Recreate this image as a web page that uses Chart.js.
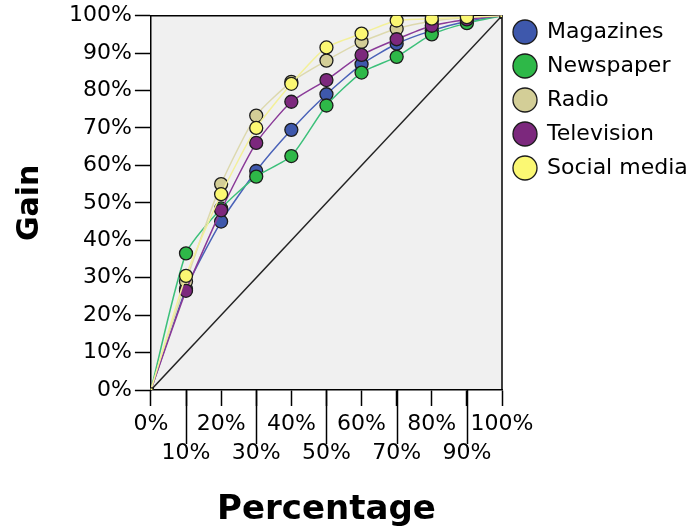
<!DOCTYPE html>
<html>
<head>
<meta charset="utf-8">
<script src="https://cdn.jsdelivr.net/npm/chart.js@4.4.1/dist/chart.umd.min.js"></script>
<style>
  html, body { margin: 0; padding: 0; background: #fff; }
</style>
</head>
<body>
<canvas id="chart" width="687" height="531"></canvas>
<script>
const chartCanvas = document.getElementById("chart");

// cumulative gain, percent of cases
const percentages = [0, 10, 20, 30, 40, 50, 60, 70, 80, 90, 100];
const magazines = [0, 27, 45, 58.5, 69.5, 79, 87, 92.5, 96, 98.5, 100];
const newspaper = [0, 36.5, 48.5, 57, 62.5, 76, 84.8, 89, 95, 98, 100];
const radio = [0, 29, 55, 73.3, 82.3, 88, 93, 96.5, 98.5, 99.5, 100];
const television = [0, 26.5, 48, 66, 77, 82.8, 89.5, 93.7, 97.3, 99, 100];
const socialMedia = [0, 30.5, 52.3, 70, 81.8, 91.5, 95.2, 98.7, 99.2, 99.6, 100];
const baseline = [0, 100];

const seriesNames = ["Magazines", "Newspaper", "Radio", "Television", "Social media"];
const seriesValues = [magazines, newspaper, radio, television, socialMedia];
const markerColors = ["#3e58ac", "#2eb848", "#d3ce97", "#7c287d", "#fbf873"];
const lineColors = ["#4a62b8", "#3cc07a", "#ddd9ae", "#8a3a98", "#f3f09a"];

const FONT = "'DejaVu Sans', sans-serif";

const toPoints = (vals) => vals.map((v, i) => ({ x: percentages[i], y: v }));
const isEnd = (ctx) => ctx.dataIndex === 0 || ctx.dataIndex === percentages.length - 1;

const datasets = seriesNames.map((name, i) => ({
  label: name,
  data: toPoints(seriesValues[i]),
  borderColor: lineColors[i],
  borderWidth: 1.5,
  backgroundColor: markerColors[i],
  pointBackgroundColor: markerColors[i],
  pointBorderColor: "#1c1c1c",
  pointBorderWidth: 1.3,
  pointStyle: (ctx) => (isEnd(ctx) ? "rect" : "circle"),
  pointRadius: (ctx) => (isEnd(ctx) ? 3 : 6.5),
  tension: 0.2,
  order: 10 - i,
}));

datasets.push({
  label: "reference",
  data: [{ x: 0, y: baseline[0] }, { x: 100, y: baseline[1] }],
  borderColor: "#222",
  borderWidth: 1.5,
  pointRadius: 0,
  order: 20,
});

const plotFrame = {
  id: "plotFrame",
  beforeDraw(chart) {
    const { ctx, chartArea: a } = chart;
    ctx.save();
    ctx.fillStyle = "#f0f0f0";
    ctx.fillRect(a.left, a.top, a.right - a.left, a.bottom - a.top);
    ctx.restore();
  },
  beforeDatasetsDraw(chart) {
    const { ctx, chartArea: a } = chart;
    ctx.save();
    ctx.strokeStyle = "#000";
    ctx.lineWidth = 1.5;
    ctx.beginPath();
    ctx.moveTo(a.left, a.top);
    ctx.lineTo(a.right, a.top);
    ctx.lineTo(a.right, a.bottom);
    ctx.stroke();
    ctx.restore();
  },
  afterDraw(chart) {
    // odd x ticks reach down to the second label row
    const { ctx, chartArea: a } = chart;
    const xScale = chart.scales.x;
    ctx.save();
    ctx.strokeStyle = "#000";
    ctx.lineWidth = 1.5;
    xScale.ticks.forEach((t, i) => {
      if (i % 2 === 1) {
        const px = Math.round(xScale.getPixelForValue(t.value)) + 0.5;
        ctx.beginPath();
        ctx.moveTo(px, a.bottom);
        ctx.lineTo(px, a.bottom + 54);
        ctx.stroke();
      }
    });
    ctx.restore();
  },
};

const chart = new Chart(chartCanvas.getContext("2d"), {
  type: "line",
  data: { datasets },
  plugins: [plotFrame],
  options: {
    responsive: false,
    animation: false,
    layout: { padding: { top: 9, left: 0, right: 0, bottom: 0 } },
    plugins: {
      tooltip: { enabled: false },
      legend: {
        position: "right",
        align: "start",
        maxWidth: 185,
        labels: {
          usePointStyle: true,
          pointStyle: "circle",
          boxHeight: 17,
          padding: 12,
          color: "#000",
          font: { family: FONT, size: 22 },
          filter: (item) => item.datasetIndex < seriesNames.length,
          sort: (a, b) => a.datasetIndex - b.datasetIndex,
        },
      },
    },
    scales: {
      x: {
        type: "linear",
        min: 0,
        max: 100,
        ticks: {
          stepSize: 10,
          autoSkip: false,
          maxRotation: 0,
          minRotation: 0,
          padding: 4,
          color: "#000",
          font: { family: FONT, size: 22, lineHeight: 1.3 },
          callback: (v, i) => (i % 2 === 0 ? [v + "%", ""] : ["", v + "%"]),
        },
        grid: { drawOnChartArea: false, tickLength: 16, tickColor: "#000", tickWidth: 1.5 },
        border: { color: "#000", width: 1.5 },
        title: {
          display: true,
          text: "Percentage",
          color: "#000",
          font: { family: FONT, size: 34, weight: "bold" },
          padding: { top: 19, bottom: 0 },
        },
      },
      y: {
        min: 0,
        max: 100,
        ticks: {
          stepSize: 10,
          padding: 3,
          color: "#000",
          font: { family: FONT, size: 22, lineHeight: 1.15 },
          callback: (v) => v + "%",
        },
        grid: { drawOnChartArea: false, tickLength: 16, tickColor: "#000", tickWidth: 1.5 },
        border: { color: "#000", width: 1.5 },
        title: {
          display: true,
          text: "Gain",
          color: "#000",
          font: { family: FONT, size: 30, weight: "bold" },
          padding: { top: 12, bottom: 18 },
        },
      },
    },
  },
});
</script>
</body>
</html>
